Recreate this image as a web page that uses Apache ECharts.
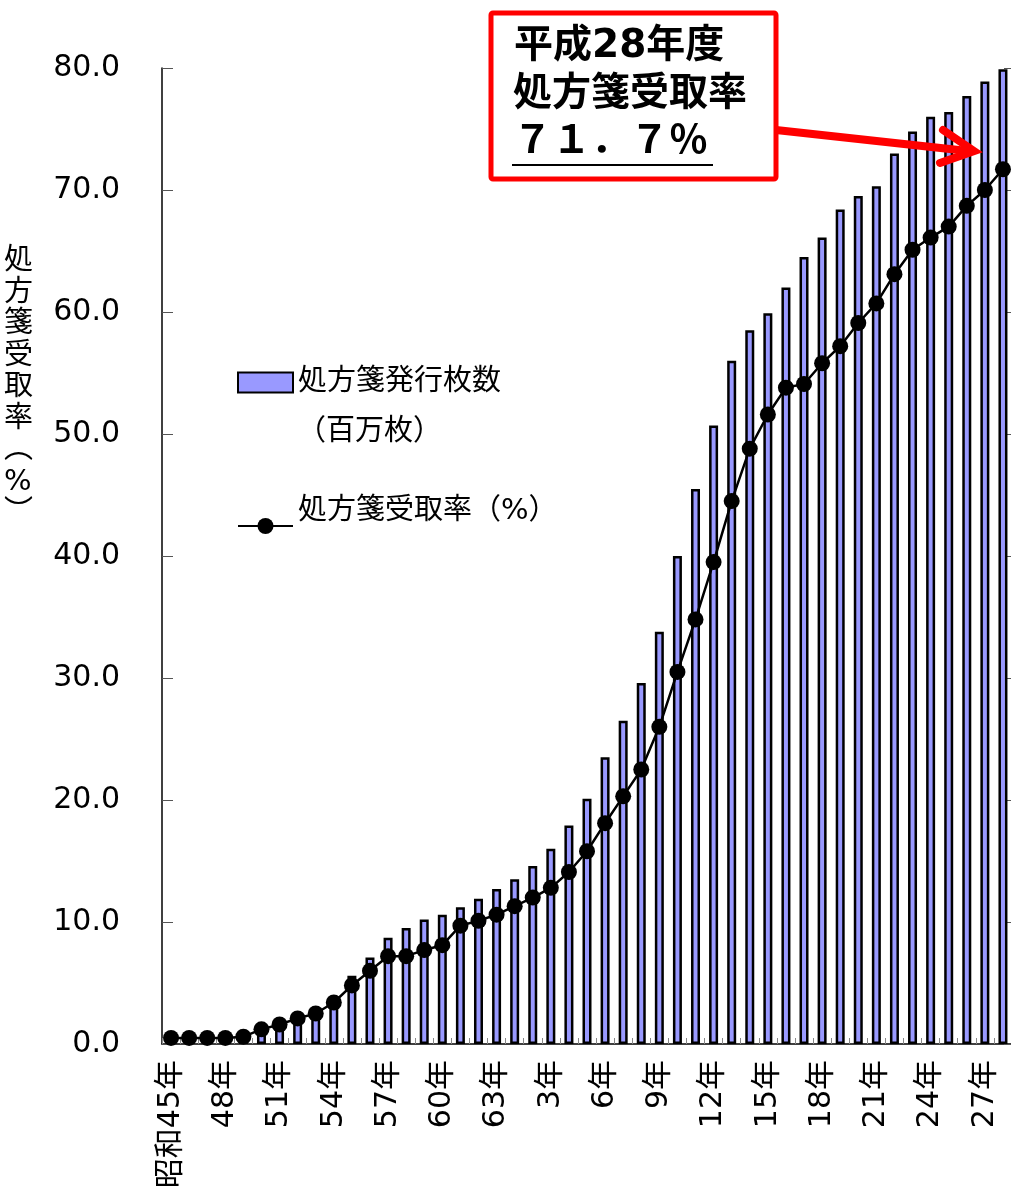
<!DOCTYPE html>
<html>
<head>
<meta charset="utf-8">
<script src="https://cdn.jsdelivr.net/npm/echarts@6/dist/echarts.min.js"></script>
<style>
html,body{margin:0;padding:0;background:#fff;}
#main{width:1011px;height:1188px;}
</style>
</head>
<body>
<div id="main"></div>
<script>
const categories = ['昭和45年','46年','47年','48年','49年','50年','51年','52年','53年','54年','55年','56年','57年','58年','59年','60年','61年','62年','63年',
  '元年','2年','3年','4年','5年','6年','7年','8年','9年','10年','11年','12年','13年','14年','15年','16年','17年','18年','19年','20年','21年','22年','23年','24年','25年','26年','27年','28年'];
// 処方箋受取率（%）
const rateValues = [0.5,0.5,0.5,0.5,0.6,1.2,1.6,2.1,2.5,3.4,4.8,6.0,7.2,7.2,7.7,8.1,9.7,10.1,10.6,11.3,12.0,12.8,14.1,15.8,18.1,20.3,22.5,26.0,30.5,34.8,39.5,44.5,48.8,51.6,53.8,54.1,55.8,57.2,59.1,60.7,63.1,65.1,66.1,67.0,68.7,70.0,71.7];
// 処方箋発行枚数（百万枚）
const countValues = [1,2,3,4,6,10,14,19,24,31,56,71,87,95,102,106,112,119,127,135,146,160,179,201,235,265,296,338,400,455,507,560,585,599,620,645,661,684,695,703,730,748,760,764,777,789,799];
const yTicks = [0,10,20,30,40,50,60,70,80];
const barName = '処方箋発行枚数';
const lineName = '処方箋受取率（%）';

const FONT = 'DejaVu Sans, "Noto Sans CJK JP", sans-serif';
const chart = echarts.init(document.getElementById('main'), null, {renderer:'canvas'});
chart.setOption({
  animation:false,
  backgroundColor:'#fff',
  textStyle:{fontFamily:FONT},
  grid:{left:162, top:68, width:850, height:976, containLabel:false, outerBoundsMode:'none'},
  legend:[
    {data:[barName], left:237, top:368, padding:0, icon:'rect', itemWidth:55, itemHeight:20, itemGap:0,
     textStyle:{fontSize:29, color:'#000', fontFamily:FONT}},
    {data:[lineName], left:237, top:496, padding:0, itemWidth:55, itemHeight:20, itemGap:0,
     formatter: n => n + '\n ',
     textStyle:{fontSize:29, lineHeight:30, color:'#000', fontFamily:FONT}}
  ],
  xAxis:{
    type:'category', data:categories, boundaryGap:true,
    axisLine:{show:true, lineStyle:{color:'#000', width:1.5}},
    axisTick:{show:true, inside:true, length:6, interval:0, lineStyle:{color:'#888'}},
    axisLabel:{interval:2, rotate:90, fontSize:30, color:'#000', margin:16, fontFamily:FONT}
  },
  yAxis:[
    {type:'value', min:0, max:80, interval:10, position:'left',
     axisLine:{show:true, lineStyle:{color:'#000', width:1.5}},
     axisTick:{show:true, inside:true, length:11, lineStyle:{color:'#555'}},
     splitLine:{show:false},
     axisLabel:{fontSize:30, color:'#000', margin:42, formatter:v=>v.toFixed(1), fontFamily:FONT}},
    {type:'value', min:0, max:800, interval:100, position:'right',
     axisLine:{show:true, lineStyle:{color:'#000', width:1}},
     axisTick:{show:true, inside:true, length:8, lineStyle:{color:'#555'}},
     splitLine:{show:false}, axisLabel:{show:false}}
  ],
  series:[
    {name:barName, type:'bar', yAxisIndex:1, data:countValues, barWidth:9,
     itemStyle:{color:'#9999FF', borderColor:'#000', borderWidth:2.5}, z:2},
    {name:lineName, type:'line', yAxisIndex:0, data:rateValues, symbol:'circle', symbolSize:16,
     showSymbol:true, showAllSymbol:true,
     itemStyle:{color:'#000'}, lineStyle:{color:'#000', width:2.5}, z:3}
  ],
  graphic:[
    {type:'text', left:297, top:418, style:{text:'（百万枚）', fill:'#000', font:'29px '+FONT}},
    {type:'text', left:4, top:246, style:{text:'処\n方\n箋\n受\n取\n率\n︵\n%\n︶', lineHeight:31.5, fill:'#000', font:'29px '+FONT, align:'center'}},
    {type:'rect', shape:{x:491, y:13, width:285, height:166, r:2}, style:{fill:'#fff', stroke:'#FF0000', lineWidth:5}, z:10},
    {type:'text', left:514, top:27, z:11, style:{text:'平成28年度', fill:'#000', font:'bold 39px '+FONT}},
    {type:'text', left:513, top:75, z:11, style:{text:'処方箋受取率', fill:'#000', font:'bold 39px '+FONT}},
    {type:'text', left:513, top:123, z:11, style:{text:'７１．７％', fill:'#000', font:'bold 39px '+FONT}},
    {type:'line', z:11, shape:{x1:512, y1:165, x2:713, y2:165}, style:{stroke:'#000', lineWidth:2}},
    {type:'line', z:11, shape:{x1:776, y1:130, x2:968, y2:151}, style:{stroke:'#FF0000', lineWidth:8}},
    {type:'polyline', z:11, shape:{points:[[943,130],[974,151],[940,163]]}, style:{stroke:'#FF0000', lineWidth:8, fill:null, lineJoin:'miter', lineCap:'round'}}
  ]
});
</script>
</body>
</html>
